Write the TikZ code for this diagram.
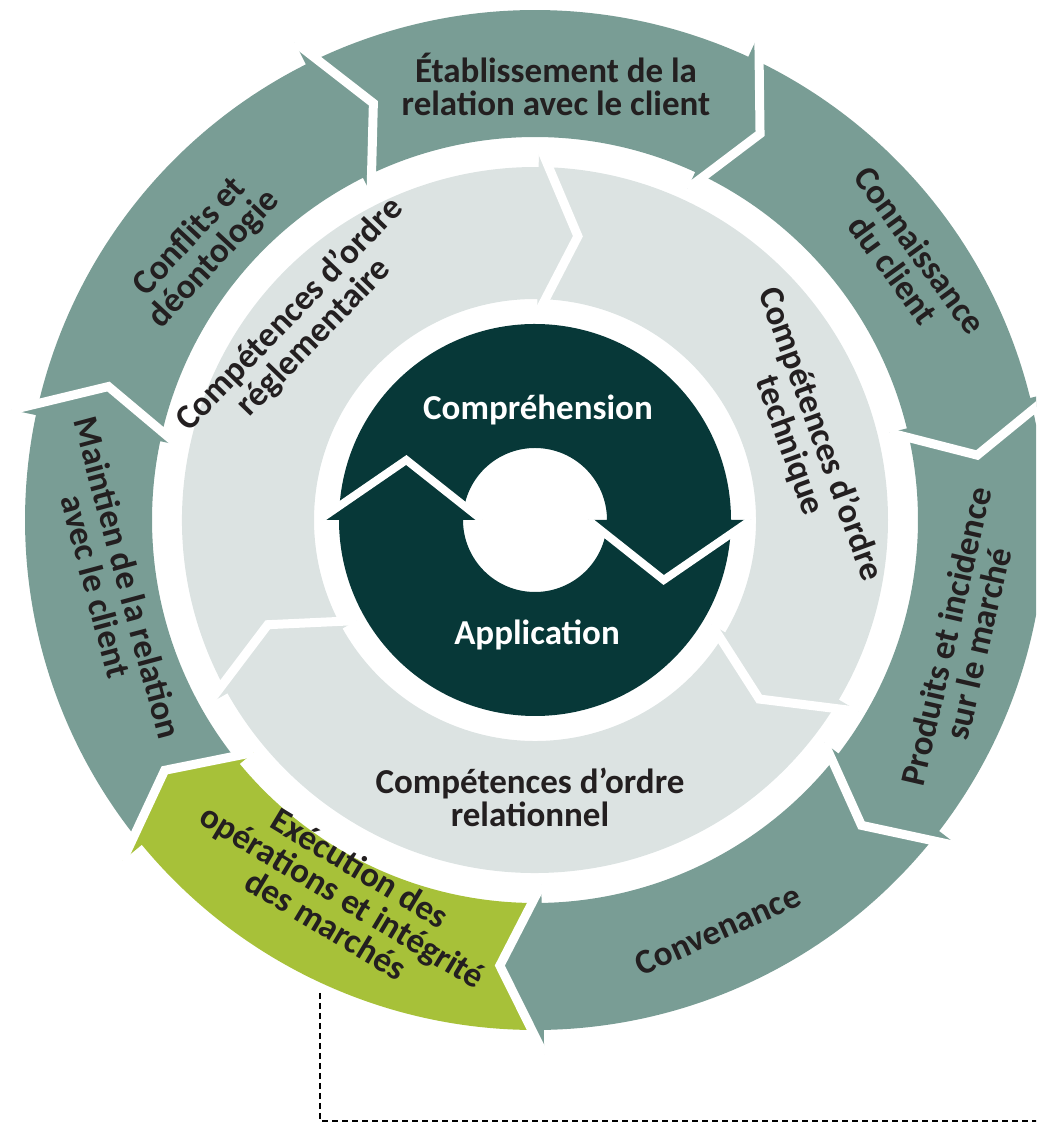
\documentclass[tikz,border=0pt]{standalone}
\usepackage{fontspec}
\setmainfont{Carlito}
\definecolor{ringteal}{HTML}{799D95}
\definecolor{ringgray}{HTML}{DCE3E2}
\definecolor{ringdark}{HTML}{073838}
\definecolor{ringgreen}{HTML}{A7C139}
\definecolor{inktext}{HTML}{231F20}
% piece of a ring: colour, tail angle, head angle (clockwise)
\newcommand{\rpiece}[3]{\fill[#1] ({#2-\dO}:\Ro) arc[start angle={#2-\dO}, end angle={#3}, radius=\Ro] -- ({#3}:\Rob) -- ({#3-\hh}:\Rm) -- ({#3}:\Rib) -- ({#3}:\Ri) arc[start angle={#3}, end angle={#2-\dI}, radius=\Ri] -- ({#2-\hh}:\Rm) -- cycle;}
\newcommand{\rgap}[1]{\draw[white, line width=\gw, line join=miter] ({#1}:\Rob) -- ({#1-\hh}:\Rm) -- ({#1}:\Rib);}
\begin{document}
\begin{tikzpicture}[x=1pt,y=1pt,
  lbl/.style={font=\fontsize{35}{33}\selectfont\bfseries, text=inktext, align=center, inner sep=0pt},
  wlbl/.style={lbl, text=white},
  dashline/.style={draw=black, line width=2.8pt, dash pattern=on 6pt off 4pt}]
\useasboundingbox (0,0) rectangle (1036,1124);
\clip (0,0) rectangle (1036,1124);
\begin{scope}[shift={(535,604)}]
  % outer ring
  \def\Ro{510}\def\Ri{383}\def\Rm{447}\def\Rob{535}\def\Rib{365}\def\hh{5.5}\def\dO{1.25}\def\dI{1.42}\def\gw{9pt}
  \rpiece{ringteal}{116.7}{65.271}
  \rpiece{ringteal}{65.271}{13.843}
  \rpiece{ringteal}{13.843}{-37.586}
  \rpiece{ringteal}{-37.586}{-89.014}
  \rpiece{ringgreen}{-89.014}{-140.443}
  \rpiece{ringteal}{-140.443}{-191.871}
  \rpiece{ringteal}{-191.871}{-243.3}
  \rgap{65.271}\rgap{13.843}\rgap{-37.586}\rgap{-89.014}\rgap{-140.443}\rgap{-191.871}\rgap{116.7}
  % middle ring
  \def\Ro{353}\def\Ri{221}\def\Rm{287}\def\Rob{376}\def\Rib{205}\def\hh{8}\def\dO{1.63}\def\dI{2.07}\def\gw{9pt}
  \rpiece{ringgray}{209.4}{89.4}
  \rpiece{ringgray}{89.4}{-30.6}
  \rpiece{ringgray}{-30.6}{-150.6}
  \rgap{89.4}\rgap{-30.6}\rgap{209.4}
  % inner ring
  \def\Ro{196}\def\Ri{72}\def\Rm{142}\def\Rob{216}\def\Rib{53}\def\hh{25}\def\dO{4.12}\def\dI{11.3}\def\gw{8pt}
  \rpiece{ringdark}{180}{0}
  \rpiece{ringdark}{0}{-180}
  \rgap{180}\rgap{0}
\end{scope}
% labels of the outer ring
\node[lbl] (etab) at (556,1040) {Établissement de la\\relation avec le client};
\node[lbl, rotate=-54] (conn) at (907,864) {Connaissance\\du client};
\node[lbl, rotate=77] (prod) at (962,484) {Produits et incidence\\sur le marché};
\node[lbl, rotate=24] (conv) at (718,194) {Convenance};
\node[lbl, rotate=-31] (exec) at (343,228) {Exécution des\\opérations et intégrité\\des marchés};
\node[lbl, rotate=-75] (maint) at (112,542) {Maintien de la relation\\avec le client};
\node[lbl, rotate=47] (confl) at (202,876) {Conflits et\\déontologie};
% labels of the middle ring
\node[lbl, rotate=46] (regl) at (302,798) {Compétences d’ordre\\réglementaire};
\node[lbl, rotate=-70] (tech) at (805,684) {Compétences d’ordre\\technique};
\node[lbl] (rel) at (530,327) {Compétences d’ordre\\relationnel};
% labels of the inner ring
\node[wlbl] (compr) at (538,714) {Compréhension};
\node[wlbl] (appl) at (537,489) {Application};
% dashed connector
\coordinate (dstart) at (320,131);
\coordinate (dcorner) at (320,3);
\coordinate (dend) at (1040,3);
\draw[dashline] (dstart) -- (dcorner) -- (dend);
\end{tikzpicture}
\end{document}
